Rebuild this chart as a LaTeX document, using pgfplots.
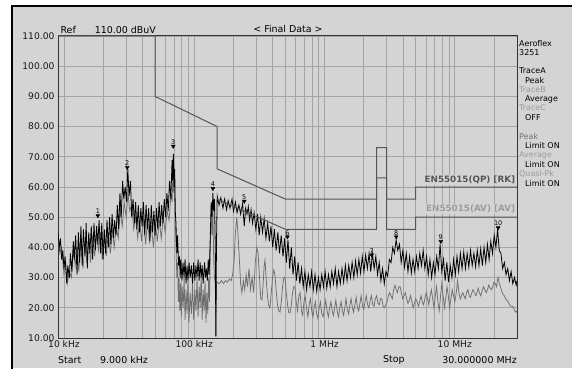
\documentclass[border=0pt]{standalone}
\usepackage{fontspec}
\setmainfont{DejaVu Sans}
\usepackage{pgfplots}
\pgfplotsset{compat=1.18}
\usepackage{pgfplotstable}
\definecolor{bg}{HTML}{D4D4D4}
\definecolor{gridc}{HTML}{A4A4A4}
\definecolor{limc}{HTML}{555555}
\definecolor{avgc}{HTML}{6E6E6E}
\definecolor{lightt}{HTML}{9C9C9C}
\definecolor{midt}{HTML}{707070}

\pgfplotstableread{
f db
9.0 45
9.2 40
9.4 43
9.6 36
9.8 39
10.0 33
10.2 37
10.5 28
10.7 34
11.0 30
11.2 38
11.5 32
11.8 42
12.0 36
12.3 44
12.6 31
12.9 45
13.2 35
13.5 47
13.8 34
14.1 46
14.5 37
14.8 48
15.1 33
15.5 45
15.8 38
16.2 47
16.6 36
17.0 48
17.4 39
17.8 47
18.2 41
18.6 49
19.1 38
19.5 48
20.0 36
20.4 46
20.9 38
21.4 49
21.9 40
22.4 50
22.9 41
23.4 51
24.0 43
24.5 49
25.1 44
25.7 54
26.3 46
26.9 58
27.5 50
28.2 62
28.8 56
29.5 60
30.2 55
30.9 66
31.6 57
32.4 62
33.1 50
33.9 56
34.7 48
35.5 55
36.3 46
37.2 54
38.0 45
38.9 53
39.8 47
40.7 55
41.7 44
42.7 54
43.7 46
44.7 53
45.7 42
46.8 54
47.9 45
49.0 52
50.1 44
51.3 53
52.5 46
53.7 55
55.0 47
56.2 54
57.5 48
58.9 56
60.3 50
61.7 58
63.1 52
64.6 62
66.1 56
67.6 69
68.3 62
69.2 71
70.0 60
70.8 66
71.5 52
72.4 48
73.5 38
74.5 44
75.8 34
77.0 37
78.0 30
79.0 36
80.5 29
82.0 35
83.5 30
85.0 36
86.5 28
88.0 34
89.5 29
91.2 35
93.0 30
95.0 34
97.0 28
99.0 35
101 29
103 34
105 30
107 36
109 29
111 35
113 30
115 34
117 28
120 35
122 30
124 33
126 29
128 36
130 31
131 35
133 45
135 55
137 50
139 58
141 52
143 56
145 40
146.5 10.5
148 40
150 57
155 54
160 56.5
166 53
171 56
177 52.5
182 55.5
188 53
195 56
200 52
207 55
213 51.5
220 54
227 51
235 54.5
242 47
248 53
254 51
260 53.5
266 49
273 52.5
280 48
288 51.5
297 46
306 51
315 44
324 50
334 45
344 49.5
355 43
366 48
377 42
388 47
400 40
412 46
425 39
438 45
451 38
465 44
480 37
494 43
509 35
524 42.5
540 33
556 40
573 31
590 37
608 29
627 35
646 28
666 33
686 27
707 32
728 26
750 31
773 27
796 32
820 26
845 31
871 25.5
897 30
924 26
952 31
981 27
1010 32
1040 26.5
1072 31
1105 27
1138 32
1172 28
1208 33
1245 27
1282 32
1321 28
1361 33
1402 28.5
1445 34
1489 29
1534 34
1580 30
1628 35
1678 30
1729 35.5
1781 31
1835 36
1891 31.5
1948 37
2007 32
2068 37.5
2131 33
2196 38
2262 32
2331 38
2402 33
2475 37
2550 31
2627 35
2707 29
2789 33
2874 28
2961 32
3051 30.5
3143 36
3239 35
3337 40
3438 38
3542 42.5
3650 39
3760 41
3875 35
3992 39
4113 33.5
4238 38
4367 32
4499 37
4636 31.5
4776 36
4921 32
5071 37
5225 33
5383 38
5546 34
5715 39
5888 33
6067 37
6251 31
6440 36
6636 30
6837 35
7044 31
7258 37
7478 33
7705 41
7939 32
8180 36
8428 29
8683 35
8947 28.5
9218 34
9498 30
9786 36
10083 31
10388 37
10703 32
11028 38
11362 33
11707 38.5
12062 33
12428 38
12805 33.5
13193 39
13594 34
14006 38
14431 33.5
14869 39
15320 34
15785 39.5
16264 34
16757 40
17266 35
17789 41
18329 36
18885 42
19458 38
20048 44
20657 40
21284 46
21929 39
22595 38
23280 33
23986 35
24714 31
25464 33
26236 29
27032 32
27853 28
28698 30
29568 27.5
30000 29
}\peaktable

\pgfplotstableread{
f db
9.0 43
9.3 38
9.6 40
10.0 31
10.3 35
10.6 28
11.0 32
11.4 30
11.8 39
12.2 34
12.6 40
13.0 32
13.5 43
14.0 33
14.5 42
15.0 35
15.5 43
16.0 35
16.6 44
17.2 37
17.8 44
18.4 39
19.0 45
19.7 36
20.4 44
21.1 37
21.9 45
22.7 38
23.5 46
24.3 40
25.2 47
26.1 43
27.0 52
28.0 47
29.0 55
30.0 50
31.0 58
32.0 52
33.1 54
34.3 46
35.5 50
36.8 43
38.1 49
39.4 42
40.8 50
42.3 41
43.8 49
45.3 42
46.9 47
48.6 40
50.3 48
52.1 42
53.9 49
55.8 43
57.8 50
59.8 45
61.9 52
64.1 49
66.4 58
67.6 55
68.7 66
69.5 58
70.5 62
71.5 48
72.5 40
73.5 30
74.5 35
75.5 22
76.5 30
77.5 19
78.5 28
79.5 17
80.8 27
82.2 20
83.6 30
85.0 16
86.5 26
88.0 18
89.5 29
91.0 15
93.0 25
95.0 18
97.0 28
99.0 16
101 26
103 19
105 30
107 17
109 27
111 20
113 31
115 16
117 26
119 19
121 29
123 15
125 25
127 18
129 30
131 22
133 40
135 55
137 44
139 52
141 36
143 30
145 28
146.5 10.5
148 28
150 28.5
156 28
162 29
168 28
174 29
180 28.5
186 29.5
192 29
197 31
202 35
207 45
212 50
217 44
222 36
227 28
232 25
238 29
244 26
250 31
256 27
263 33
270 26
278 30
286 25
294 35
302 40
309 38
317 30
324 23
331 22.6
338 28
344 34
349 35.8
356 30
363 25
371 21
381 20
390 25
399 30
408 32.5
416 31
425 26
435 21
445 19
455 18.6
466 22
476 27
487 30
497 30
508 25
520 21
531 18.5
543 18.3
556 21
568 25
580 27
593 27
606 22
620 19
635 24
650 25
665 19
680 17.5
695 22
710 24
727 20
745 17
762 21
780 23
797 19
815 17
832 20
850 22
870 18
890 16.5
910 20
930 22
952 18
975 17
997 20
1020 22.5
1045 19
1070 17
1095 20
1120 22
1145 19
1170 17.5
1195 20
1220 22.5
1250 19
1280 17
1310 20
1340 22
1370 19
1400 17.5
1430 20
1460 23
1495 19.5
1530 18
1565 21
1600 23
1635 20
1670 18.5
1710 21
1750 23.5
1790 20
1830 19
1870 21.5
1910 24
1955 20.5
2000 19.5
2045 22
2090 24
2140 21
2190 20
2240 22.5
2290 24
2345 21
2400 20.5
2455 23
2510 24
2570 21.5
2630 21
2690 23
2750 23
2815 20.5
2880 20
2950 21
3020 22
3090 24
3160 25
3235 24
3310 23
3390 26
3470 27.5
3550 26
3630 25
3715 27
3800 27
3890 25
3980 23
4075 24
4170 25
4270 23
4370 21.5
4470 22.5
4570 24
4680 22
4790 20
4900 21.5
5010 23
5130 22
5250 20.5
5370 22
5500 24
5620 22
5750 21
5890 23
6030 25
6170 23
6310 21
6460 24
6610 26
6760 23
6920 20
7080 24
7240 27
7410 22
7590 19
7770 24
7940 28
8130 24
8320 20
8510 23
8710 27
8910 24
9120 20
9330 23
9550 26
9770 24
10000 22
10250 25
10500 29
10750 25
11000 23
11250 24
11500 25
11750 24
12000 23
12300 25
12600 26
12900 24
13200 23.5
13500 25
13800 26
14150 25
14500 24
14800 25
15100 26.5
15450 25
15800 24
16200 25.5
16600 27
17000 26
17400 25
17800 26
18200 27.5
18650 26.5
19100 26
19550 27
20000 28.5
20450 28
20900 27
21200 29
21500 30
21950 28
22400 27
22900 25.5
23400 24.5
23950 24
24500 23
25100 22.5
25700 22
26300 21
26900 20.5
27550 20.5
28200 20
28850 19
29500 18.5
30000 19
}\avgtable

\pgfplotstableread{
f db
9 110
50 110
50 90
150 80
150 66
500 56
2510 56
2510 73
3000 73
3000 56
5000 56
5000 60
30000 60
}\qptable

\pgfplotstableread{
f db
150 56
500 46
2510 46
2510 63
3000 63
3000 46
5000 46
5000 50
30000 50
}\avtable

\pgfplotstableread{
f db lab
18.2 50.5 1
30.6 66.5 2
69 73.5 3
139 59.5 4
242 55.3 5
519 43.5 6
2300 37.5 7
3550 43.5 8
7800 42 9
21500 46.5 10
}\marktable

\begin{document}
\begin{tikzpicture}[x=1bp,y=1bp]
\useasboundingbox (0,0) rectangle (572,368);
\fill[white] (0,0) rectangle (572,368);
\fill[bg] (12,0) rectangle (572,362);
\draw[black,line width=1.5bp] (12,-2) -- (12,362) -- (574,362);
\begin{axis}[
  at={(58bp,30bp)}, anchor=south west,
  scale only axis, width=459bp, height=302bp,
  xmode=log, xmin=9, xmax=30000, ymin=10, ymax=110,
  axis background/.style={fill=bg},
  axis line style={draw=black!80, line width=1bp},
  xtick={10,100,1000,10000},
  xticklabels={10 kHz,100 kHz,1 MHz,10 MHz},
  minor xtick={20,30,40,50,60,70,80,90,200,300,400,500,600,700,800,900,2000,3000,4000,5000,6000,7000,8000,9000,20000},
  ytick={10,20,30,40,50,60,70,80,90,100,110},
  yticklabels={10.00,20.00,30.00,40.00,50.00,60.00,70.00,80.00,90.00,100.00,110.00},
  grid=both,
  major grid style={draw=gridc, line width=0.7bp},
  minor grid style={draw=gridc, line width=0.7bp},
  major tick length=0pt, minor tick length=0pt,
  tick label style={font=\fontsize{9.2}{10}\selectfont, text=black!90},
  xticklabel style={yshift=1bp},
  clip=true,
]
\addplot[avgc, line width=0.75bp] table[x=f,y=db] {\avgtable};
\addplot[black, line width=0.8bp] table[x=f,y=db] {\peaktable};
\addplot[limc, line width=1bp] table[x=f,y=db] {\qptable};
\addplot[limc, line width=1bp] table[x=f,y=db] {\avtable};
\addplot[only marks, mark=triangle*, mark size=2.2bp,
  mark options={rotate=180, fill=black, draw=black},
  point meta=explicit symbolic, nodes near coords,
  nodes near coords style={font=\fontsize{6.5}{6.5}\selectfont, anchor=south, inner sep=0.5bp, yshift=1bp, text=black}]
  table[x=f,y=db,meta=lab] {\marktable};
\node[anchor=east, font=\bfseries\fontsize{8.8}{10}\selectfont, text=limc, fill=bg, inner sep=1bp] at (axis cs:29600,62.4) {EN55015(QP) [RK]};
\node[anchor=east, font=\bfseries\fontsize{8.8}{10}\selectfont, text=lightt, fill=bg, inner sep=1bp] at (axis cs:29600,52.7) {EN55015(AV) [AV]};
\end{axis}
\node[anchor=west, font=\fontsize{9.5}{10}\selectfont] at (57,338) {Ref\hspace{19bp}110.00 dBuV};
\node[font=\fontsize{9.5}{10}\selectfont] at (288,339.5) {< Final Data >};
\begin{scope}[every node/.style={anchor=west, font=\fontsize{8}{8}\selectfont, inner sep=0pt}]
\node at (519,324.5) {Aeroflex};
\node at (519,315) {3251};
\node at (519,297) {TraceA};
\node at (525,287.5) {Peak};
\node[text=lightt] at (519,278.5) {TraceB};
\node at (525,269) {Average};
\node[text=lightt] at (519,260) {TraceC};
\node at (525,250.5) {OFF};
\node[text=midt] at (519,231) {Peak};
\node at (525,222) {Limit ON};
\node[text=lightt] at (519,212.5) {Average};
\node at (525,203) {Limit ON};
\node[text=lightt] at (519,194) {Quasi-Pk};
\node at (525,184.5) {Limit ON};
\end{scope}
\node[anchor=west, font=\fontsize{9.5}{10}\selectfont, inner sep=0pt] at (58,8) {Start};
\node[anchor=west, font=\fontsize{9.5}{10}\selectfont, inner sep=0pt] at (100,8) {9.000 kHz};
\node[anchor=west, font=\fontsize{9.5}{10}\selectfont, inner sep=0pt] at (383,8) {Stop};
\node[anchor=east, font=\fontsize{9.5}{10}\selectfont, inner sep=0pt] at (517,8) {30.000000 MHz};
\end{tikzpicture}
\end{document}
